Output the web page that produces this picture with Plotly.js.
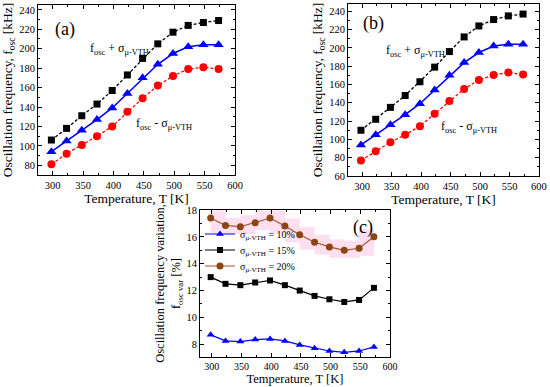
<!DOCTYPE html>
<html>
<head>
<meta charset="utf-8">
<script src="https://cdn.plot.ly/plotly-3.0.1.min.js"></script>
<style>html,body{margin:0;padding:0;background:#fff;}#chart{width:550px;height:387px;}</style>
</head>
<body>
<div id="chart"></div>
<script>
// Temperatures [K]
const temps = [298, 323, 348, 373, 398, 423, 448, 473, 498, 523, 548, 573];
// Panel (a) frequencies [kHz]
const aPlus  = [106, 118, 131, 143, 157, 173, 190, 205, 217, 224, 227, 229];
const aMean  = [94, 105, 116, 127, 139, 154, 170, 184, 195, 202, 204, 204];
const aMinus = [81, 92, 101, 110, 120, 135, 149, 162, 172, 179, 181, 179];
// Panel (b) frequencies [kHz]
const bPlus  = [110, 122, 135, 148, 163, 179, 196, 212, 224, 231, 235, 237];
const bMean  = [94, 105, 116, 127, 139, 154, 170, 184, 195, 202, 204, 204];
const bMinus = [77, 87, 97, 105, 114.5, 128, 142, 155, 165, 170.5, 173, 171];
// Panel (c) frequency variation [%]
const c10 = [8.7, 8.25, 8.2, 8.35, 8.4, 8.25, 7.95, 7.7, 7.5, 7.4, 7.5, 7.8];
const c15 = [13.0, 12.5, 12.4, 12.6, 12.75, 12.4, 12.0, 11.6, 11.35, 11.15, 11.3, 12.2];
const c20 = [17.4, 16.85, 16.75, 17.05, 17.4, 16.8, 16.15, 15.6, 15.25, 15.0, 15.15, 16.0];
const cNames = ['σ<sub>μ-V</sub><sub>TH</sub> = 10%', 'σ<sub>μ-V</sub><sub>TH</sub> = 15%', 'σ<sub>μ-V</sub><sub>TH</sub> = 20%'];
const xTicks = [300, 350, 400, 450, 500, 550, 600];

const FONT = 'Liberation Serif, Times New Roman, serif';
const txtPlus = 'f<sub>osc</sub> + σ<sub>μ-VTH</sub>';
const txtMinus = 'f<sub>osc</sub> - σ<sub>μ-VTH</sub>';

function tr(x, y, xa, ya, color, sym, dash, size, width, name, leg) {
  const t = {x: x, y: y, xaxis: xa, yaxis: ya, type: 'scatter', mode: 'lines+markers',
    line: {color: color, width: width, dash: dash},
    marker: {color: color, symbol: sym, size: size},
    name: name || '', showlegend: !!leg};
  if (leg) t.legend = leg;
  return t;
}

const data = [
  tr(temps, aPlus, 'x', 'y', '#000000', 'square', '3px,2px', 7, 1.3),
  tr(temps, aMean, 'x', 'y', '#0000ff', 'triangle-up', 'solid', 9, 1.6),
  tr(temps, aMinus, 'x', 'y', '#ff0000', 'circle', '3px,2px', 8, 1.3),
  tr(temps, bPlus, 'x2', 'y2', '#000000', 'square', '3px,2px', 7, 1.3),
  tr(temps, bMean, 'x2', 'y2', '#0000ff', 'triangle-up', 'solid', 9, 1.6),
  tr(temps, bMinus, 'x2', 'y2', '#ff0000', 'circle', '3px,2px', 8, 1.3),
  {x: temps, y: c20, xaxis: 'x3', yaxis: 'y3', type: 'scatter', mode: 'lines',
   line: {color: 'rgba(252,215,235,0.8)', width: 15, shape: 'hvh'}, showlegend: false, hoverinfo: 'skip'},
  tr(temps, c10, 'x3', 'y3', '#0000ff', 'triangle-up', 'solid', 7, 1.2, cNames[0], 'legend'),
  tr(temps, c15, 'x3', 'y3', '#000000', 'square', 'solid', 6, 1.2, cNames[1], 'legend2'),
  tr(temps, c20, 'x3', 'y3', '#a8532a', 'circle', 'solid', 7, 1.2, cNames[2], 'legend3')
];
data[9].marker.color = '#8b4513';

function xax(domain, anchor, range) {
  return {domain: domain, anchor: anchor, range: range, tickvals: xTicks,
    ticks: 'inside', ticklen: 4, tickcolor: '#000', mirror: 'allticks', showline: true, linecolor: '#000', linewidth: 1,
    showgrid: false, zeroline: false, tickfont: {family: FONT, size: 10.5, color: '#000'},
    minor: {dtick: 25, ticks: 'inside', ticklen: 2, tickcolor: '#000'},
    title: {text: 'Temperature, T [K]', font: {family: FONT, size: 13.5, color: '#000'}, standoff: 1}};
}
function yax(domain, anchor, range, dtick, title, fs, standoff) {
  return {domain: domain, anchor: anchor, range: range, dtick: dtick,
    ticks: 'inside', ticklen: 4, tickcolor: '#000', mirror: 'allticks', showline: true, linecolor: '#000', linewidth: 1,
    showgrid: false, zeroline: false, tickfont: {family: FONT, size: 10.5, color: '#000'},
    minor: {dtick: dtick / 2, ticks: 'inside', ticklen: 2, tickcolor: '#000'},
    title: {text: title, font: {family: FONT, size: fs, color: '#000'}, standoff: standoff}};
}
function leg(ypix) {
  return {x: 200 / 550, y: 1 - ypix / 387, xanchor: 'left', yanchor: 'middle', bgcolor: 'rgba(0,0,0,0)',
    font: {family: FONT, size: 10, color: '#000'}, itemwidth: 30, borderwidth: 0};
}

const ytA = 'Oscillation frequency, f<sub>osc</sub> [kHz]';
const xc = xax([0.3636, 0.709], 'y3', [280, 600]);
xc.tickfont.size = 10; xc.title.font.size = 12.5; xc.title.standoff = 3;
const layout = {
  width: 550, height: 387, margin: {l: 0, r: 0, t: 0, b: 0},
  paper_bgcolor: '#fff', plot_bgcolor: '#fff',
  font: {family: FONT, color: '#000'},
  xaxis: xax([0.0691, 0.4273], 'y', [276, 600]),
  yaxis: yax([0.5478, 0.9871], 'x', [70, 245], 20, ytA, 13.5, 3),
  xaxis2: xax([0.6327, 0.98], 'y2', [276, 600]),
  yaxis2: yax([0.5452, 0.9897], 'x2', [60, 248], 20, ytA, 13.5, 3),
  xaxis3: xc,
  yaxis3: yax([0.0775, 0.4574], 'x3', [7.05, 18], 2, 'Oscillation frequency variation,<br>f<sub>osc var</sub> [%]', 12.5, 2),
  showlegend: true,
  legend: leg(234),
  legend2: leg(250),
  legend3: leg(266),
  annotations: [
    {xref: 'paper', yref: 'paper', x: 53 / 550, y: 1 - 29 / 387, xanchor: 'left', yanchor: 'middle', text: '(a)', showarrow: false, font: {family: FONT, size: 18}},
    {xref: 'paper', yref: 'paper', x: 361 / 550, y: 1 - 23 / 387, xanchor: 'left', yanchor: 'middle', text: '(b)', showarrow: false, font: {family: FONT, size: 18}},
    {xref: 'paper', yref: 'paper', x: 351 / 550, y: 1 - 227 / 387, xanchor: 'left', yanchor: 'middle', text: '(c)', showarrow: false, font: {family: FONT, size: 18}},
    {xref: 'paper', yref: 'paper', x: 88 / 550, y: 1 - 49 / 387, xanchor: 'left', yanchor: 'middle', text: txtPlus, showarrow: false, font: {family: FONT, size: 12}},
    {xref: 'paper', yref: 'paper', x: 134 / 550, y: 1 - 124 / 387, xanchor: 'left', yanchor: 'middle', text: txtMinus, showarrow: false, font: {family: FONT, size: 12}},
    {xref: 'paper', yref: 'paper', x: 384 / 550, y: 1 - 51 / 387, xanchor: 'left', yanchor: 'middle', text: txtPlus, showarrow: false, font: {family: FONT, size: 12}},
    {xref: 'paper', yref: 'paper', x: 439 / 550, y: 1 - 127 / 387, xanchor: 'left', yanchor: 'middle', text: txtMinus, showarrow: false, font: {family: FONT, size: 12}}
  ]
};

Plotly.newPlot('chart', data, layout, {staticPlot: true, displayModeBar: false});
</script>
</body>
</html>
